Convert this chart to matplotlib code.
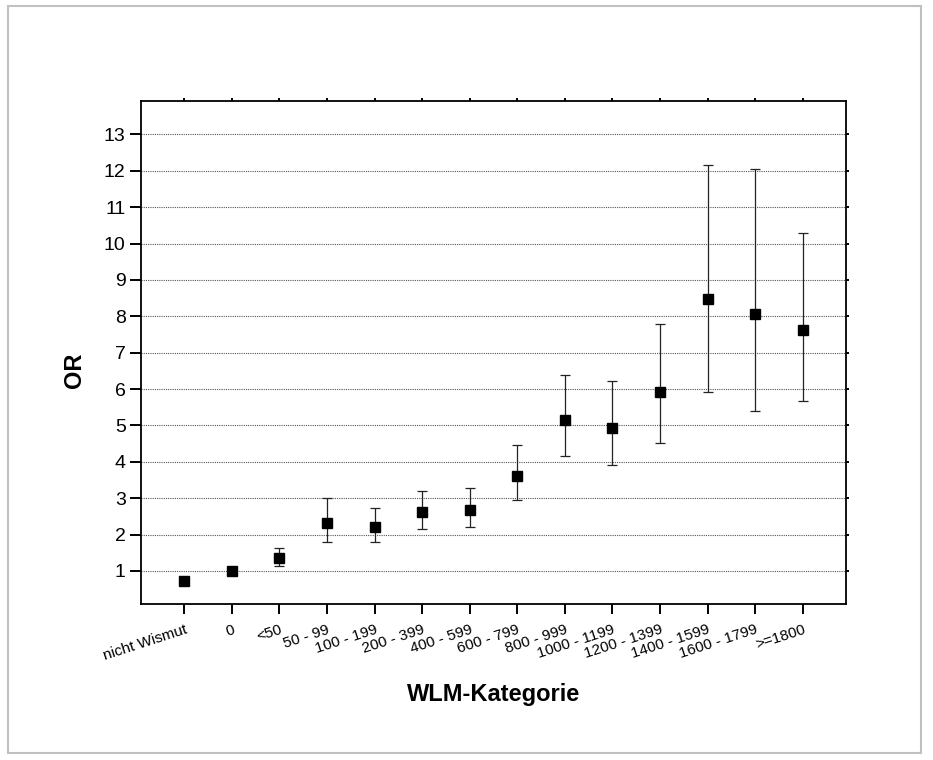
import numpy as np
import matplotlib
matplotlib.use("Agg")
import matplotlib.pyplot as plt
from matplotlib.patches import Rectangle

plt.rcParams['font.family'] = ['Liberation Sans', 'DejaVu Sans']

categories = ["nicht Wismut", "0", "<50", "50 - 99", "100 - 199", "200 - 399",
              "400 - 599", "600 - 799", "800 - 999", "1000 - 1199", "1200 - 1399",
              "1400 - 1599", "1600 - 1799", ">=1800"]
odds_ratio = [0.71, 1.0, 1.36, 2.31, 2.20, 2.63, 2.68, 3.61, 5.15, 4.93, 5.93, 8.47, 8.05, 7.63]
ci_low = [None, None, 1.13, 1.80, 1.80, 2.16, 2.20, 2.95, 4.15, 3.92, 4.52, 5.91, 5.39, 5.68]
ci_high = [None, None, 1.64, 3.00, 2.72, 3.20, 3.28, 4.47, 6.40, 6.21, 7.80, 12.17, 12.04, 10.28]
y_ticks = list(range(1, 14))

W, H = 933, 760
fig = plt.figure(figsize=(W / 100, H / 100), dpi=100)
ax = fig.add_axes([141 / W, 1 - 604 / H, 705 / W, 503 / H])

x = np.arange(len(categories))
y = np.array(odds_ratio)

# error bars only where a CI exists
idx = [i for i in range(len(categories)) if ci_low[i] is not None]
lo = np.array([y[i] - ci_low[i] for i in idx])
hi = np.array([ci_high[i] - y[i] for i in idx])
ax.errorbar(x[idx], y[idx], yerr=[lo, hi], fmt='none', ecolor='#222222',
            elinewidth=0.9, capsize=3.6, capthick=0.9, zorder=3)
ax.plot(x, y, 's', color='black', markersize=6.8, zorder=4)

ax.set_xlim(-0.91, 13.91)
ax.set_ylim(0.09, 13.92)
ax.set_yticks(y_ticks)
ax.set_xticks(x)
ax.set_xticklabels(categories, rotation=18, ha='right', va='top',
                   rotation_mode='anchor', fontsize=11)
ax.tick_params(axis='y', labelsize=14, length=8, width=1.4, direction='out',
               right=True, pad=3)
ax.tick_params(axis='y', which='major', right=True)
ax.tick_params(axis='x', length=7.5, width=1.4, direction='out', top=True, pad=6)

# small ticks on top/right spines
for t in ax.yaxis.get_major_ticks():
    t.tick2line.set_markersize(2)
for t in ax.xaxis.get_major_ticks():
    t.tick2line.set_markersize(2)

ax.yaxis.grid(True, linestyle=(0, (1, 1)), color='#555555', linewidth=0.8)
ax.set_axisbelow(True)
for s in ax.spines.values():
    s.set_linewidth(1.3)

fig.text(75 / W, 1 - 370 / H, "OR", rotation=90, ha='center', va='center',
         fontsize=17, fontweight='bold')
fig.text(494 / W, 1 - 695 / H, "WLM-Kategorie", ha='center', va='center',
         fontsize=17, fontweight='bold')

fig.patches.append(Rectangle((8 / W, 1 - 753 / H), 913 / W, 747 / H,
                             transform=fig.transFigure, fill=False,
                             edgecolor='#c0c0c0', linewidth=1.5))

fig.savefig("out.png", dpi=100)
